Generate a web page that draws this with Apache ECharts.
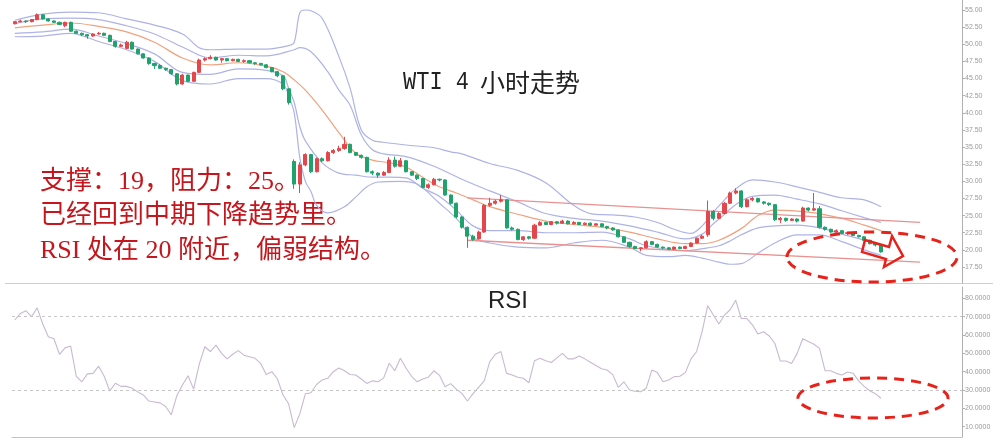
<!DOCTYPE html>
<html>
<head>
<meta charset="utf-8">
<script src="https://cdn.jsdelivr.net/npm/echarts@6/dist/echarts.min.js"></script>
<style>html,body{margin:0;padding:0;background:#fff;}#c{width:1003px;height:448px;}</style>
</head>
<body>
<div id="c"></div>
<script>
// ---- data ----
const priceTicks = [17.5, 20, 22.5, 25, 27.5, 30, 32.5, 35, 37.5, 40, 42.5, 45, 47.5, 50, 52.5, 55];
const rsiTicks = [10, 20, 30, 40, 50, 60, 70, 80];
const rsiLevels = [70, 30];

// [open, close, low, high]
const candles = [
[53.0,53.3,52.9,53.4],[53.3,53.4,53.2,53.6],[53.4,53.3,53.1,53.5],[53.3,53.6,53.2,53.7],[53.6,54.3,53.5,54.5],
[54.3,53.7,53.6,54.4],[53.7,53.4,53.3,53.8],[53.4,53.2,53.1,53.5],[53.2,52.9,52.8,53.3],[52.7,53.2,52.5,53.3],
[53.2,51.9,51.8,53.3],[51.9,51.6,51.5,52.0],[51.6,51.4,51.2,51.7],[51.4,51.2,50.8,51.5],[51.2,51.5,51.1,51.6],
[51.5,51.6,51.4,51.8],[51.6,51.3,51.2,51.7],[51.3,50.4,50.3,51.4],[50.4,49.7,49.5,50.5],[49.7,49.9,49.6,50.1],
[49.4,50.3,49.3,50.5],[50.3,49.3,49.2,50.4],[49.3,48.6,48.5,49.4],[48.6,48.0,47.9,48.7],[48.0,47.2,47.0,48.1],
[47.2,46.9,46.4,47.3],[46.9,46.5,46.4,47.1],[46.5,46.3,46.1,46.6],[46.3,45.7,45.5,46.4],[45.7,44.2,44.0,45.8],
[44.2,45.5,44.1,45.7],[45.5,44.6,44.5,45.6],[44.6,45.9,44.5,46.0],[45.9,47.7,45.8,47.9],[47.7,47.9,47.5,48.1],
[47.9,48.1,47.8,48.4],[48.1,47.7,47.6,48.2],[47.7,47.9,47.3,48.0],[47.9,47.6,47.5,48.0],[47.6,47.8,47.5,47.9],
[47.8,47.5,47.4,47.9],[47.5,47.6,47.3,47.8],[47.6,47.3,47.2,47.7],[47.3,47.2,47.0,47.4],[47.2,47.0,46.9,47.3],
[47.0,46.6,46.5,47.1],[46.6,46.0,45.9,46.7],[46.0,45.4,45.2,46.1],[45.4,43.5,43.3,45.5],[43.5,41.5,41.2,43.6],
[32.9,29.6,28.9,33.2],[29.6,32.4,28.3,32.8],[32.4,33.9,32.2,34.1],[33.9,31.4,31.2,34.0],[31.4,33.3,31.3,33.5],
[33.3,33.0,32.8,33.5],[33.0,34.2,32.9,34.4],[34.2,34.5,34.0,34.7],[34.5,34.8,34.3,35.2],[34.8,35.4,34.6,36.5],
[35.4,34.2,34.1,35.5],[34.2,33.8,33.7,34.3],[33.8,33.5,33.3,33.9],[33.5,31.4,31.3,33.6],[31.4,31.2,30.9,31.6],
[31.2,30.9,30.5,31.3],[30.9,31.3,30.8,31.5],[31.3,33.1,31.2,33.5],[33.1,32.2,32.0,33.6],[32.2,33.0,32.1,33.4],
[33.0,31.4,31.3,33.1],[31.4,30.9,30.8,31.5],[30.9,30.4,30.2,31.0],[30.4,29.1,29.0,30.5],[29.1,29.5,28.9,29.7],
[29.5,30.3,29.4,30.5],[30.3,30.2,30.0,30.4],[30.2,28.0,27.9,30.3],[28.0,26.8,26.6,28.1],[26.8,24.8,24.6,26.9],
[24.8,23.3,23.1,24.9],[23.3,22.0,20.3,23.4],[22.0,21.5,21.3,22.2],[21.6,22.6,21.5,22.8],[22.6,26.5,22.5,26.7],
[26.5,26.8,26.3,27.6],[26.8,27.1,26.6,27.3],[27.1,27.3,26.9,28.0],[27.3,23.2,23.1,27.4],[23.2,23.0,22.8,23.4],
[23.0,21.5,21.4,23.1],[21.5,21.9,21.3,22.0],[21.9,21.7,21.5,22.0],[21.7,23.6,21.6,23.8],[23.6,24.0,23.5,24.2],
[24.0,23.7,23.6,24.1],[23.7,24.1,23.6,24.2],[24.1,23.9,23.7,24.2],[23.9,24.2,23.8,24.4],[24.2,23.8,23.7,24.3],
[23.8,24.0,23.7,24.2],[24.0,23.7,23.6,24.1],[23.7,23.9,23.6,24.0],[23.9,23.6,23.5,24.0],[23.6,23.8,23.5,23.9],
[23.8,23.4,23.3,23.9],[23.4,23.2,23.0,23.5],[23.2,22.9,22.8,23.3],[22.9,21.9,21.8,23.0],[21.9,21.1,21.0,22.0],
[21.1,20.5,20.3,21.2],[20.5,20.2,20.1,20.6],[20.2,20.3,19.8,20.4],[20.3,21.2,20.2,21.4],[21.2,20.8,20.7,21.3],
[20.8,20.4,20.3,20.9],[20.4,20.3,20.1,20.5],[20.3,20.1,20.0,20.4],[20.1,20.4,20.0,20.5],[20.4,20.2,20.1,20.5],
[20.2,20.5,20.1,20.6],[20.5,21.0,20.4,21.1],[21.0,21.7,20.9,21.8],[21.7,22.0,21.6,22.2],[22.2,25.6,21.9,27.2],
[25.6,24.6,24.3,25.8],[24.6,25.3,24.5,25.5],[25.3,26.8,25.2,27.0],[26.8,28.3,26.7,28.5],[28.3,28.6,28.1,29.0],
[28.6,26.3,26.1,28.7],[26.3,27.3,26.2,27.5],[27.3,27.5,27.1,27.7],[27.5,27.0,26.9,27.6],[27.0,26.8,26.6,27.1],
[26.8,26.6,26.4,26.9],[26.6,24.4,24.2,26.7],[24.4,24.6,23.9,24.8],[24.6,24.3,24.1,24.7],[24.3,24.5,24.2,24.6],
[24.5,24.2,24.0,24.6],[24.2,26.1,24.1,26.3],[26.1,25.8,25.6,26.2],[25.8,26.0,25.7,28.3],[26.0,23.3,23.1,26.4],
[23.3,23.0,22.8,23.4],[23.0,22.6,22.5,23.1],[22.6,22.8,22.5,23.0],[22.8,22.4,22.3,22.9],[22.4,22.5,22.2,22.6],
[22.5,22.1,22.0,22.6],[22.1,21.9,21.8,22.2],[21.9,21.4,21.3,22.0],[21.4,20.9,20.8,21.5],[20.9,20.7,20.5,21.0],
[20.7,19.7,19.6,20.8]
];

// [candle index, value]
const maLine = [[0,52.4],[5,52.8],[10,53.1],[15,52.6],[20,51.8],[25,50.3],[30,48.0],[35,47.0],[40,47.3],[45,46.8],[48,46.0],[50,44.8],[52,43.3],[55,40.4],[58,37.1],[61,34.1],[64,33.1],[67,32.7],[70,32.1],[73,30.6],[76,29.2],[79,28.3],[82,27.3],[85,26.3],[90,25.2],[95,24.2],[100,23.7],[105,23.3],[110,22.6],[115,21.6],[120,20.9],[123,20.9],[126,21.4],[130,23.1],[133,25.0],[136,25.8],[142,25.5],[148,24.6],[152,23.6],[155,22.8]];
const upperOuter = [[0,53.5],[5,54.4],[10,54.7],[15,54.6],[20,53.7],[25,52.8],[30,51.5],[33,49.5],[35,49.2],[40,49.3],[45,49.3],[49,49.8],[50,50.3],[51,54.6],[52,55.0],[53,54.9],[55,53.8],[58,48.2],[60,43.6],[62,37.5],[64,36.0],[66,35.7],[70,35.3],[75,34.9],[78,34.3],[80,34.0],[85,32.6],[90,31.6],[95,29.8],[100,26.5],[103,25.3],[107,25.1],[111,24.8],[115,24.0],[118,23.0],[121,22.4],[123,23.5],[125,25.5],[127,27.3],[129,28.9],[132,30.2],[136,29.9],[140,29.2],[144,28.4],[148,27.6],[152,27.3],[155,26.3]];
const upperInner = [[0,53.0],[5,53.7],[10,53.8],[15,53.6],[20,52.7],[25,51.5],[30,49.6],[35,48.0],[40,48.4],[45,48.3],[50,49.2],[51,49.5],[53,48.9],[56,46.0],[58,43.3],[60,41.1],[62,36.8],[64,34.6],[66,34.0],[70,33.6],[75,32.2],[80,30.3],[85,28.6],[90,27.0],[95,25.3],[100,24.6],[105,24.2],[110,23.5],[115,22.6],[120,21.6],[123,22.3],[125,23.8],[127,25.2],[129,26.6],[132,27.8],[136,28.0],[140,27.4],[144,26.7],[148,25.7],[152,24.7],[155,24.0]];
const lowerInner = [[0,51.6],[5,51.8],[10,52.2],[15,51.2],[20,50.1],[25,48.6],[30,45.9],[35,45.6],[40,46.4],[45,46.2],[48,45.4],[49,43.6],[50,41.5],[51,38.0],[52,35.9],[55,32.7],[58,31.2],[61,30.9],[64,30.6],[67,30.6],[70,30.5],[73,29.0],[76,27.8],[79,25.8],[82,23.5],[85,22.8],[90,22.8],[95,22.5],[100,22.5],[105,22.6],[110,21.6],[113,20.6],[117,20.1],[120,19.9],[124,20.3],[126,20.6],[128,21.3],[130,22.2],[133,23.2],[136,23.5],[140,23.6],[144,23.2],[148,22.3],[152,21.4],[155,20.6]];
const lowerOuter = [[0,51.1],[5,51.2],[10,51.6],[15,50.4],[20,49.2],[25,47.5],[30,44.7],[35,44.2],[40,45.0],[45,45.0],[48,44.2],[49,42.5],[50,40.0],[51,33.5],[52,30.0],[53,28.5],[54,26.5],[56,25.4],[59,26.3],[61,27.7],[63,29.2],[65,29.9],[69,30.0],[72,29.6],[76,26.8],[79,24.6],[82,21.8],[85,21.0],[90,20.4],[95,20.3],[100,21.0],[105,21.4],[110,20.4],[113,19.2],[117,19.0],[120,19.2],[123,18.8],[126,18.2],[128,17.9],[130,18.0],[133,19.5],[136,21.0],[140,22.2],[144,22.2],[148,21.2],[152,20.0],[155,19.2]];
const resistLine = [[81,27.6],[162,24.0]];
const supportLine = [[81,21.4],[162,18.2]];

const rsi = [
68.2,71.8,73.2,70.0,74.8,66.0,59.1,58.0,49.5,53.0,
54.0,37.5,34.5,38.8,39.1,43.0,37.5,29.5,33.7,32.0,
32.0,31.0,29.0,27.3,24.0,23.5,23.0,21.0,16.5,27.0,
32.7,37.8,30.5,44.0,53.6,51.0,54.5,50.0,47.0,49.5,
51.5,49.0,48.2,47.3,44.5,38.5,40.0,36.0,27.3,22.5,
9.5,17.0,28.0,28.5,33.0,35.5,36.4,40.0,42.0,40.5,
38.5,38.2,36.0,33.6,35.0,34.5,36.5,44.6,40.5,47.3,
42.0,37.5,34.5,36.0,37.0,40.5,38.0,31.8,33.5,30.5,
28.2,24.0,28.0,31.5,35.0,45.5,49.5,51.0,39.1,38.2,
37.0,36.4,34.0,46.0,47.3,46.0,45.0,47.5,50.0,47.0,
47.0,48.5,47.0,45.2,43.4,41.6,40.9,38.4,31.5,34.5,
30.0,29.3,29.1,31.0,40.9,39.5,34.5,35.5,37.3,37.5,
39.5,47.0,50.9,62.0,76.0,70.9,66.0,70.9,73.8,79.0,
69.0,69.0,65.5,60.5,61.8,59.5,55.5,45.8,45.8,44.5,
50.0,58.0,56.5,55.0,52.7,40.5,40.5,39.1,38.2,39.8,
39.2,35.0,32.0,29.6,28.0,25.5
];

const slotCount = 170;
const categories = [];
for (let i = 0; i < slotCount; i++) categories.push('K' + (i + 1));

// ---- chart ----
const chart = echarts.init(document.getElementById('c'));
const bandStyle = {color: '#aeb3e6', width: 1.2};
function bandSeries(data, style) {
  return {type: 'line', xAxisIndex: 0, yAxisIndex: 0, data: data, smooth: 0.35, symbol: 'none',
    lineStyle: style, silent: true, z: 1};
}
const red = '#e6221b';
const txtFont = "'Liberation Serif','Noto Sans CJK SC',serif";
chart.setOption({
  animation: false,
  backgroundColor: '#fff',
  grid: [
    {left: 12, right: 41, top: 0, height: 283},
    {left: 12, right: 41, top: 287, height: 150}
  ],
  xAxis: [
    {type: 'category', gridIndex: 0, data: categories, axisLine: {show: false}, axisTick: {show: false}, axisLabel: {show: false}},
    {type: 'category', gridIndex: 1, data: categories, axisLine: {show: true, lineStyle: {color: '#c4c4c4'}}, axisTick: {show: false}, axisLabel: {show: false}}
  ],
  yAxis: [
    {type: 'value', gridIndex: 0, position: 'right', min: 15.165, max: 56.459, scale: true,
      splitLine: {show: false},
      axisLine: {show: true, lineStyle: {color: '#b0b0b0'}},
      axisTick: {show: true, length: 3, customValues: priceTicks, lineStyle: {color: '#b0b0b0'}},
      axisLabel: {customValues: priceTicks, formatter: v => v.toFixed(2), fontSize: 7, color: '#9a9a9a', margin: 3, fontFamily: 'Liberation Sans'}},
    {type: 'value', gridIndex: 1, position: 'right', min: 4.38, max: 86.2, scale: true,
      splitLine: {show: false},
      axisLine: {show: true, lineStyle: {color: '#b0b0b0'}},
      axisTick: {show: true, length: 3, customValues: rsiTicks, lineStyle: {color: '#b0b0b0'}},
      axisLabel: {customValues: rsiTicks, formatter: v => v.toFixed(4), fontSize: 7, color: '#9a9a9a', margin: 3, fontFamily: 'Liberation Sans'}}
  ],
  series: [
    bandSeries(upperOuter, bandStyle),
    bandSeries(upperInner, bandStyle),
    bandSeries(lowerInner, bandStyle),
    bandSeries(lowerOuter, bandStyle),
    bandSeries(maLine, {color: '#efa27f', width: 1.2}),
    {type: 'line', xAxisIndex: 0, yAxisIndex: 0, data: resistLine, symbol: 'none', lineStyle: {color: '#e99191', width: 1.3}, z: 1},
    {type: 'line', xAxisIndex: 0, yAxisIndex: 0, data: supportLine, symbol: 'none', lineStyle: {color: '#e99191', width: 1.3}, z: 1},
    {type: 'candlestick', xAxisIndex: 0, yAxisIndex: 0, data: candles, barWidth: 3.6, z: 3,
      itemStyle: {color: '#e4464b', color0: '#1fa36c', borderColor: '#e4464b', borderColor0: '#1fa36c', borderWidth: 1}},
    {type: 'line', xAxisIndex: 1, yAxisIndex: 1, data: rsi, symbol: 'none', lineStyle: {color: '#c8b9d0', width: 1.1},
      markLine: {silent: true, symbol: ['none', 'none'], label: {show: false},
        lineStyle: {color: '#c6c6c6', type: [3, 3], width: 1},
        data: rsiLevels.map(v => ({yAxis: v}))}}
  ],
  graphic: [
    {type: 'line', shape: {x1: 5, y1: 283.5, x2: 993, y2: 283.5}, style: {stroke: '#cfcfcf', lineWidth: 1}, silent: true},
    {type: 'text', x: 403, y: 82, scaleY: 1.2, style: {text: 'WTI 4', font: "22px 'Liberation Mono'", fill: '#222', verticalAlign: 'middle', textVerticalAlign: 'middle'}, silent: true},
    {type: 'text', x: 480, y: 82, style: {text: '小时走势', font: "25px 'Noto Sans CJK SC'", fill: '#222', verticalAlign: 'middle', textVerticalAlign: 'middle'}, silent: true},
    {type: 'text', x: 40, y: 182, style: {text: '支撑：19，阻力：25。', font: '26px ' + txtFont, fill: '#c4161c', verticalAlign: 'middle', textVerticalAlign: 'middle'}, silent: true},
    {type: 'text', x: 40, y: 216, style: {text: '已经回到中期下降趋势里。', font: '26px ' + txtFont, fill: '#c4161c', verticalAlign: 'middle', textVerticalAlign: 'middle'}, silent: true},
    {type: 'text', x: 40, y: 251, style: {text: 'RSI 处在 20 附近，偏弱结构。', font: '26px ' + txtFont, fill: '#c4161c', verticalAlign: 'middle', textVerticalAlign: 'middle'}, silent: true},
    {type: 'text', x: 488, y: 301, style: {text: 'RSI', font: "24px 'Liberation Sans'", fill: '#222', verticalAlign: 'middle', textVerticalAlign: 'middle'}, silent: true},
    {type: 'ellipse', shape: {cx: 872, cy: 257, rx: 85, ry: 25}, style: {fill: 'none', stroke: red, lineWidth: 3, lineDash: [10, 7]}, silent: true, z: 100},
    {type: 'ellipse', shape: {cx: 873, cy: 398, rx: 75, ry: 20}, style: {fill: 'none', stroke: red, lineWidth: 3, lineDash: [10, 7]}, silent: true, z: 100},
    {type: 'polygon', shape: {points: [[865, 240], [889, 247], [892, 236], [903, 256], [884, 267], [886, 259], [862, 252]]},
      style: {fill: 'none', stroke: red, lineWidth: 2.5, lineJoin: 'miter'}, silent: true, z: 100}
  ]
});
</script>
</body>
</html>
